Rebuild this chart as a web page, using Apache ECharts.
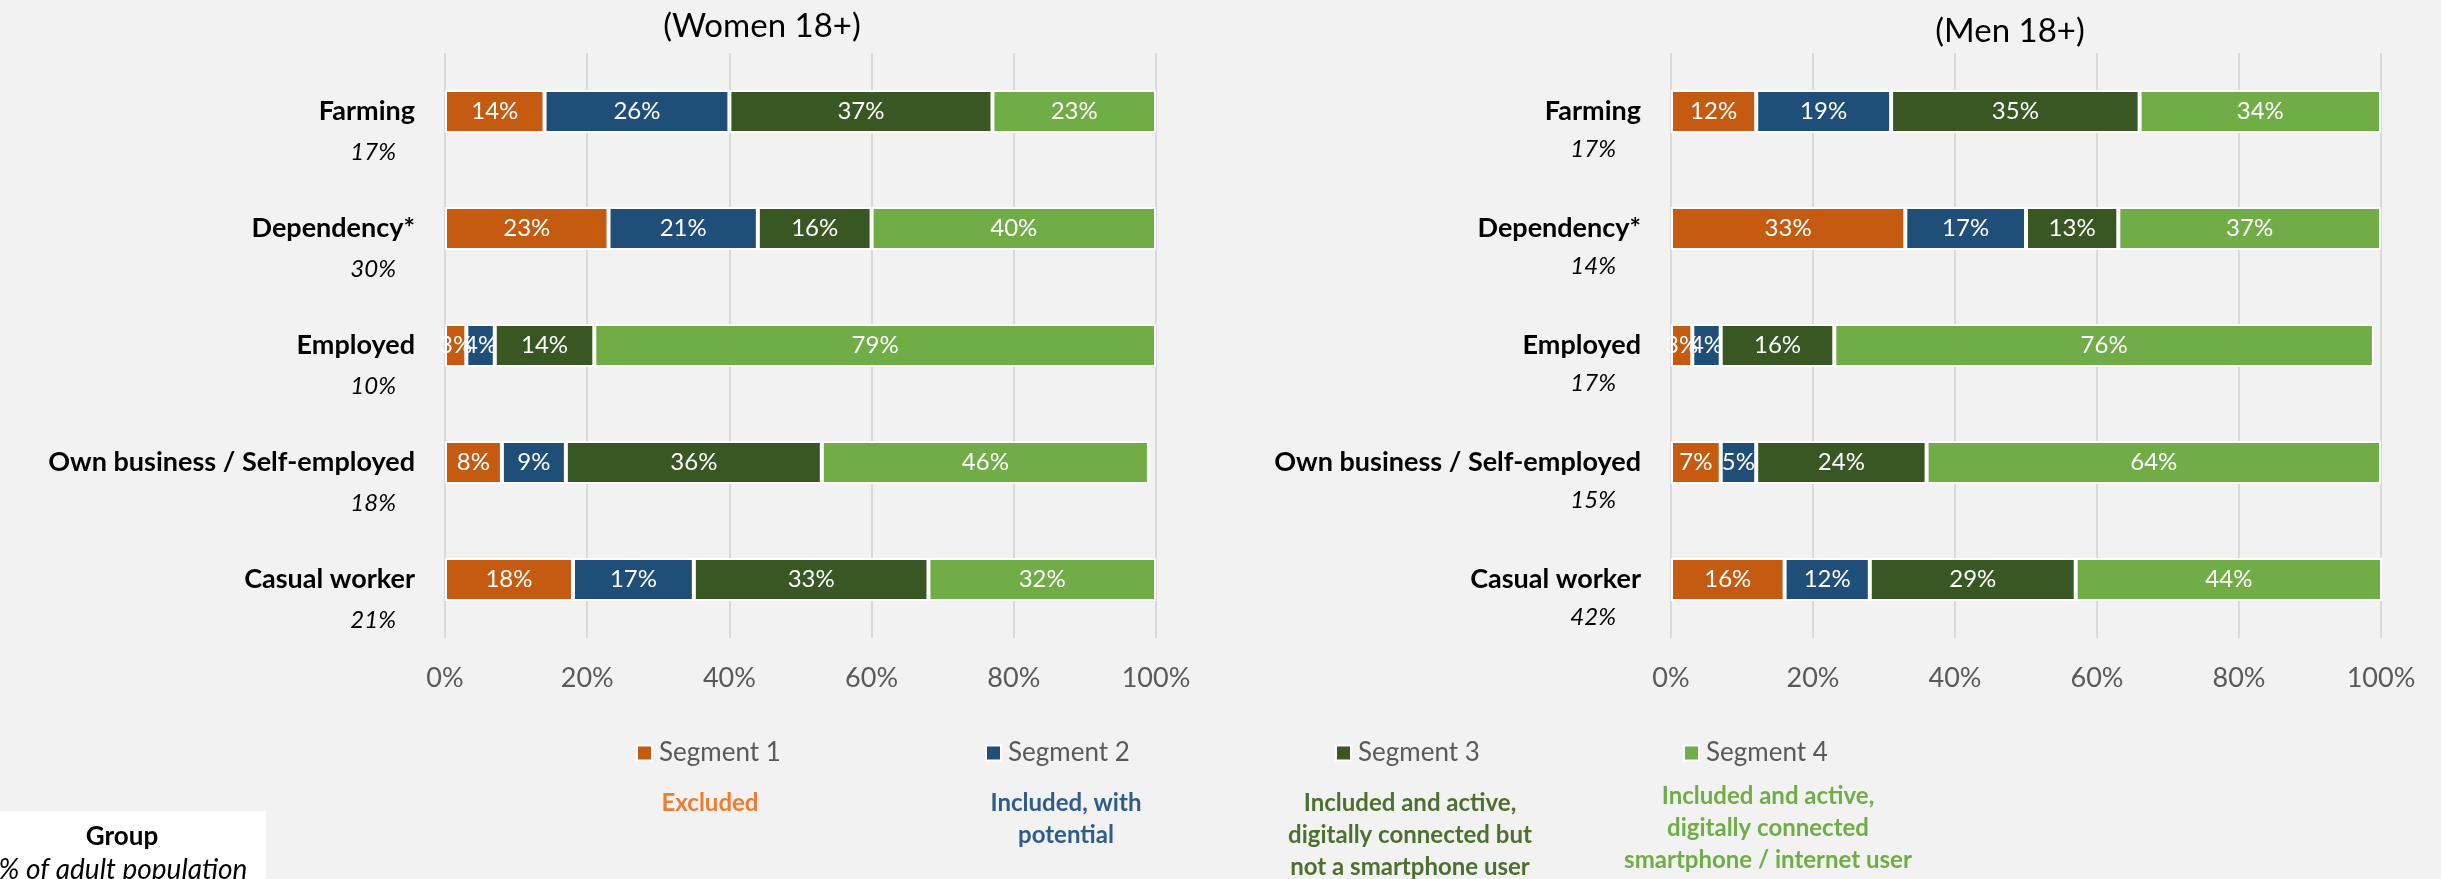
<!DOCTYPE html>
<html>
<head>
<meta charset="utf-8">
<title>Segments by livelihood group</title>
<script src="https://cdn.jsdelivr.net/npm/echarts@6/dist/echarts.min.js"></script>
<style>
  html, body { margin: 0; padding: 0; background: #F2F2F2; }
  #chart { width: 2441px; height: 879px; }
</style>
</head>
<body>
<div id="chart"></div>
<script>
// Livelihood groups (top to bottom)
const categories = ['Farming', 'Dependency*', 'Employed', 'Own business / Self-employed', 'Casual worker'];

// Share of the adult population in each group (%)
const womenGroupShare = [17, 30, 10, 18, 21];
const menGroupShare = [17, 14, 17, 15, 42];

// Segment shares within each group (%), women 18+
const womenSeg1 = [14, 23, 3, 8, 18];
const womenSeg2 = [26, 21, 4, 9, 17];
const womenSeg3 = [37, 16, 14, 36, 33];
const womenSeg4 = [23, 40, 79, 46, 32];

// Segment shares within each group (%), men 18+
const menSeg1 = [12, 33, 3, 7, 16];
const menSeg2 = [19, 17, 4, 5, 12];
const menSeg3 = [35, 13, 16, 24, 29];
const menSeg4 = [34, 37, 76, 64, 44];

// Axis ticks (%)
const xTicks = [0, 20, 40, 60, 80, 100];

const segmentNames = ['Segment 1', 'Segment 2', 'Segment 3', 'Segment 4'];
const segmentNotes = [
  'Excluded',
  'Included, with\npotential',
  'Included and active,\ndigitally connected but\nnot a smartphone user',
  'Included and active,\ndigitally connected\nsmartphone / internet user'
];
const panelTitles = ['(Women 18+)', '(Men 18+)'];

const FONT = 'Lato, "Open Sans", sans-serif';
const segmentColors = ['#C55A11', '#1F4E79', '#385723', '#70AD47'];
const noteColors = ['#ED7D31', '#2F5C8A', '#4D7030', '#70AD47'];

const chart = echarts.init(document.getElementById('chart'), null, { renderer: 'canvas' });

const panels = [
  { left: 445, width: 711, shares: womenGroupShare, segs: [womenSeg1, womenSeg2, womenSeg3, womenSeg4],
    shareGap: 19, shareDrop: 41, stack: 'women' },
  { left: 1671, width: 710, shares: menGroupShare, segs: [menSeg1, menSeg2, menSeg3, menSeg4],
    shareGap: 25, shareDrop: 38, stack: 'men' }
];

const grids = [], xAxes = [], yAxes = [], series = [];

panels.forEach((p, i) => {
  grids.push({ left: p.left, width: p.width, top: 53, height: 585, containLabel: false });

  xAxes.push({
    type: 'value', gridIndex: i,
    min: xTicks[0], max: xTicks[xTicks.length - 1], interval: xTicks[1] - xTicks[0],
    axisLine: { show: false }, axisTick: { show: false },
    splitLine: { show: true, lineStyle: { color: '#D9D9D9', width: 2 } },
    axisLabel: { formatter: '{value}%', color: '#595959', fontFamily: FONT, fontSize: 27, margin: 27 }
  });

  // Group name sits on the bar centre; its population share sits below it
  const nameLine = 30;
  const shareLine = p.shareDrop * 2 - nameLine;
  yAxes.push({
    type: 'category', gridIndex: i, data: categories, inverse: true,
    axisLine: { show: false }, axisTick: { show: false }, splitLine: { show: false },
    axisLabel: {
      interval: 0, margin: 30,
      padding: [shareLine, 0, 0, 0],
      formatter: (value, idx) => '{n|' + value + '}\n{s|' + p.shares[idx] + '%}',
      rich: {
        n: { fontFamily: FONT, fontSize: 27, fontWeight: 'bold', color: '#000', lineHeight: nameLine },
        s: { fontFamily: FONT, fontSize: 24, fontStyle: 'italic', color: '#000', lineHeight: shareLine,
             padding: [0, p.shareGap, 0, 0] }
      }
    }
  });

  p.segs.forEach((values, k) => {
    series.push({
      name: segmentNames[k], type: 'bar', stack: p.stack,
      xAxisIndex: i, yAxisIndex: i,
      data: values, barWidth: 43,
      itemStyle: { color: segmentColors[k], borderColor: '#FFFFFF', borderWidth: 2 },
      label: {
        show: true, position: 'inside', color: '#FFFFFF',
        fontFamily: FONT, fontSize: 24,
        formatter: (prm) => prm.value + '%'
      },
      emphasis: { disabled: true }
    });
  });
});

// One legend per segment, each above its description
const legendLefts = [636, 985, 1335, 1683];
const legends = segmentNames.map((name, k) => ({
  data: [name], left: legendLefts[k], top: 738, padding: 0,
  itemWidth: 15, itemHeight: 15, itemGap: 0, icon: 'rect', selectedMode: false,
  textStyle: { color: '#595959', fontFamily: FONT, fontSize: 26, lineHeight: 30, padding: [0, 0, 0, 2] }
}));

const noteCenters = [710, 1066, 1410, 1768];
const noteTops = [787, 787, 787, 780];
const graphics = [];
segmentNotes.forEach((txt, k) => {
  graphics.push({
    type: 'text', x: noteCenters[k], y: noteTops[k], silent: true,
    style: { text: txt, fill: noteColors[k], fontFamily: FONT, fontSize: 24, fontWeight: 'bold',
             align: 'center', verticalAlign: 'top', lineHeight: 32 }
  });
});

// Panel titles
[[762, 26], [2010, 31]].forEach((pos, i) => {
  graphics.push({
    type: 'text', x: pos[0], y: pos[1], silent: true,
    style: { text: panelTitles[i], fill: '#000', fontFamily: FONT, fontSize: 33,
             align: 'center', verticalAlign: 'middle' }
  });
});

// Key box for the row labels
graphics.push({ type: 'rect', shape: { x: 0, y: 811, width: 266, height: 68 }, style: { fill: '#FFFFFF' }, silent: true });
graphics.push({
  type: 'text', x: 122, y: 837, silent: true,
  style: { text: 'Group', fill: '#000', fontFamily: FONT, fontSize: 26, fontWeight: 'bold', align: 'center', verticalAlign: 'middle' }
});
graphics.push({
  type: 'text', x: 123, y: 870, silent: true,
  style: { text: '% of adult population', fill: '#000', fontFamily: FONT, fontSize: 28, fontStyle: 'italic', align: 'center', verticalAlign: 'middle' }
});

chart.setOption({
  backgroundColor: '#F2F2F2',
  animation: false,
  grid: grids,
  xAxis: xAxes,
  yAxis: yAxes,
  legend: legends,
  series: series,
  graphic: graphics
});
</script>
</body>
</html>
